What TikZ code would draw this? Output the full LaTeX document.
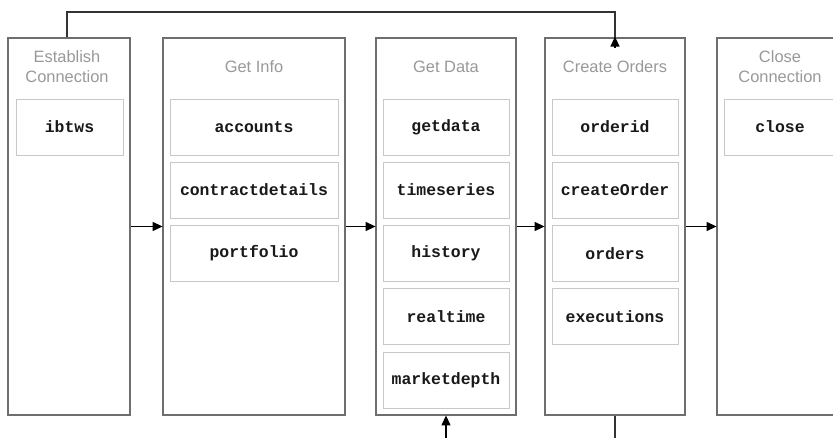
\documentclass[tikz,border=0pt]{standalone}
\usepackage{fontspec}
\setmainfont{Liberation Sans}
\newfontfamily\codefont{Liberation Mono}
\usetikzlibrary{arrows.meta}
\definecolor{framegray}{HTML}{6E6E6E}
\definecolor{boxgray}{HTML}{C8C8C8}
\definecolor{titlegray}{HTML}{999999}
\tikzset{
  column/.style={draw=framegray, line width=1.8bp, fill=white, inner sep=0pt},
  fn/.style={draw=boxgray, line width=0.9bp, inner sep=0pt, minimum height=56bp,
    font=\codefont\bfseries\fontsize{16.5}{18}\selectfont, text=black!90},
  ttl/.style={font=\fontsize{16.5}{20}\selectfont, text=titlegray, align=center, inner sep=0pt},
  arr/.style={-{Triangle[length=10bp,width=9bp]}, line width=1.2bp, black, shorten >=-0.5bp},
  link/.style={line width=1.2bp, black!80}
}
\begin{document}
\begin{tikzpicture}[x=1bp,y=-1bp]
\useasboundingbox (0,0) rectangle (833,438);
% columns
\node[column, minimum width=122bp, minimum height=377bp] (c1) at (69,226.5) {};
\node[column, minimum width=182bp, minimum height=377bp] (c2) at (254,226.5) {};
\node[column, minimum width=140bp, minimum height=377bp] (c3) at (446,226.5) {};
\node[column, minimum width=140bp, minimum height=377bp] (c4) at (615,226.5) {};
\node[column, minimum width=126bp, minimum height=377bp] (c5) at (780,226.5) {};
% titles
\node[ttl] (t1) at (67,67) {Establish\\Connection};
\node[ttl] (t2) at (254,67) {Get Info};
\node[ttl] (t3) at (446,67) {Get Data};
\node[ttl] (t4) at (615,67) {Create Orders};
\node[ttl] (t5) at (780,67) {Close\\Connection};
% function boxes
\node[fn, minimum width=107bp] (ibtws) at (69.5,127) {ibtws};
\node[fn, minimum width=168bp] (accounts) at (254,127) {accounts};
\node[fn, minimum width=168bp] (contract) at (254,190) {contractdetails};
\node[fn, minimum width=168bp] (portfolio) at (254,253.5) {portfolio};
\node[fn, minimum width=126bp] (getdata) at (446,127) {getdata};
\node[fn, minimum width=126bp] (timeseries) at (446,190) {timeseries};
\node[fn, minimum width=126bp] (history) at (446,253.5) {history};
\node[fn, minimum width=126bp] (realtime) at (446,316.5) {realtime};
\node[fn, minimum width=126bp] (marketdepth) at (446,380) {marketdepth};
\node[fn, minimum width=126bp] (orderid) at (615,127) {orderid};
\node[fn, minimum width=126bp] (createorder) at (615,190) {createOrder};
\node[fn, minimum width=126bp] (orders) at (615,253.5) {orders};
\node[fn, minimum width=126bp] (executions) at (615,316.5) {executions};
\node[fn, minimum width=112bp] (close) at (780,127) {close};
% connectors
\draw[arr] (c1.east) -- (c2.west);
\draw[arr] (c2.east) -- (c3.west);
\draw[arr] (c3.east) -- (c4.west);
\draw[arr] (c4.east) -- (c5.west);
\coordinate (topleft) at (67,12);
\draw[link] (c1.north -| topleft) -- (topleft) -| ([yshift=-10bp]c4.north);
\draw[arr] ([yshift=-11bp]c4.north) -- (c4.north);
\coordinate (in3) at (446,440);
\coordinate (out4) at (615,440);
\draw[arr] (in3) -- (c3.south);
\draw[link] (c4.south) -- (out4);
\end{tikzpicture}
\end{document}
